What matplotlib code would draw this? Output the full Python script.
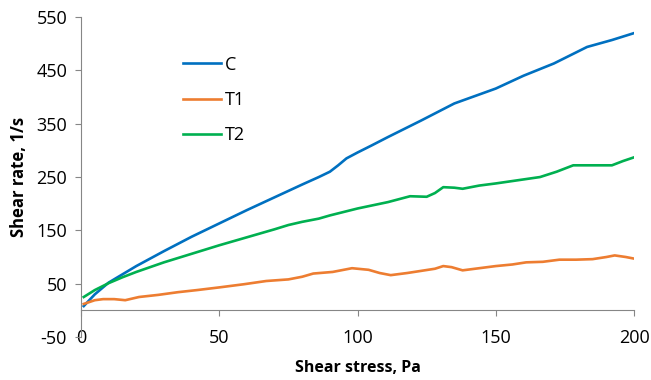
import matplotlib
matplotlib.use("Agg")
import matplotlib.pyplot as plt

plt.rcParams['font.family'] = ['Open Sans', 'DejaVu Sans']
plt.rcParams['axes.unicode_minus'] = False

# shear stress (Pa) and shear rate (1/s)
c_x = [1, 5, 10, 20, 30, 40, 50, 60, 70, 80, 86, 90, 93, 96, 100, 105, 111, 123, 135, 150, 160, 171, 183, 192, 200]
c_y = [8, 30, 52, 83, 111, 138, 163, 188, 212, 236, 250, 260, 272, 285, 296, 309, 325, 356, 388, 416, 440, 463, 494, 507, 520]

t1_x = [1, 5, 8, 12, 16, 21, 28, 35, 42, 50, 59, 67, 75, 80, 84, 91, 98, 104, 108, 112, 118, 123, 128, 131, 134, 138, 144, 150, 156, 161, 167, 173, 179, 185, 190, 193, 197, 200]
t1_y = [12, 19, 21, 21, 19, 25, 29, 34, 38, 43, 49, 55, 58, 63, 69, 72, 79, 76, 70, 66, 70, 74, 78, 83, 81, 75, 79, 83, 86, 90, 91, 95, 95, 96, 100, 103, 100, 97]

t2_x = [1, 5, 10, 15, 20, 30, 40, 50, 60, 70, 75, 80, 86, 90, 100, 111, 119, 125, 128, 131, 135, 138, 144, 150, 158, 166, 172, 178, 185, 192, 196, 200]
t2_y = [25, 38, 51, 62, 72, 90, 106, 122, 137, 152, 160, 166, 172, 178, 191, 203, 214, 213, 220, 231, 230, 228, 234, 238, 244, 250, 260, 272, 272, 272, 280, 287]

x_ticks = [0, 50, 100, 150, 200]
y_ticks = [-50, 50, 150, 250, 350, 450, 550]

fig = plt.figure(figsize=(6.51, 3.80), dpi=100)
ax = fig.add_axes([0.1244, 0.1132, 0.8496, 0.8418])

ax.plot(c_x, c_y, color='#0070C0', lw=1.9, label='C')
ax.plot(t1_x, t1_y, color='#ED7D31', lw=1.9, label='T1')
ax.plot(t2_x, t2_y, color='#00B050', lw=1.9, label='T2')

ax.set_xlim(0, 200)
ax.set_ylim(-50, 550)
ax.set_xticks(x_ticks)
ax.set_yticks(y_ticks)

for s in ['top', 'right']:
    ax.spines[s].set_visible(False)
ax.spines['left'].set_color('#868686')
ax.spines['bottom'].set_color('#868686')
ax.spines['bottom'].set_position(('data', 0))

ax.tick_params(axis='y', direction='out', length=4, color='#868686', labelsize=13, pad=6)
ax.tick_params(axis='x', direction='out', length=4, color='#868686', labelsize=13, pad=9.5)

ax.set_xlabel('Shear stress, Pa', fontsize=11.5, fontweight='bold')
ax.set_ylabel('Shear rate, 1/s', fontsize=12, fontweight='bold')
ax.xaxis.set_label_coords(0.5, -0.072)
ax.yaxis.set_label_coords(-0.096, 0.5)

ax.legend(loc='upper left', bbox_to_anchor=(0.155, 0.93), frameon=False, fontsize=13,
          handlelength=2.1, handletextpad=0.2, labelspacing=0.95)

fig.savefig('out.png', dpi=100)
